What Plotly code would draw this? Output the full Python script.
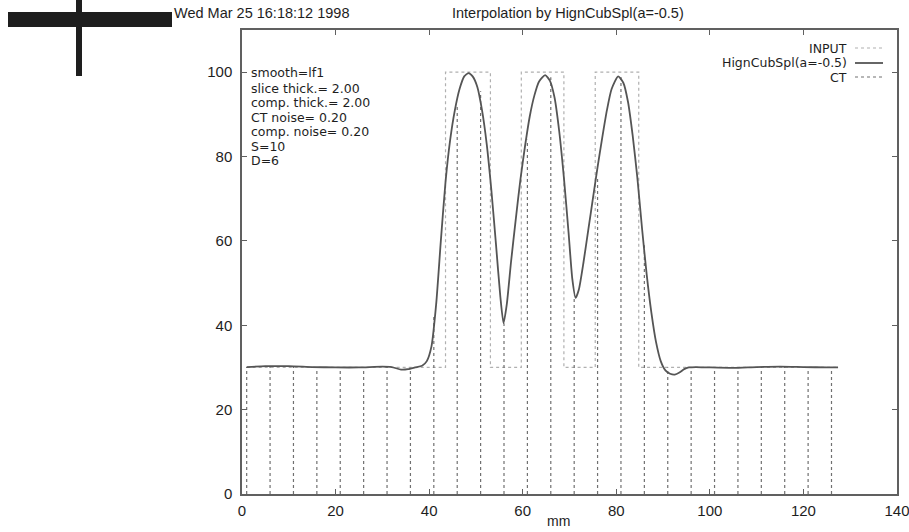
import plotly.graph_objects as go

# ---- data ----
curve_x = [1, 5, 10, 15, 20, 25, 30, 32, 34, 35.5, 37, 38.5, 39.5, 40.5, 41.5, 42.5, 43.5, 44.5,
           45.5, 46.5, 47.5, 48.4, 49.3, 50.3, 51.3, 52.3, 53.3, 54.3, 55.2, 55.9, 56.6, 57.5,
           58.5, 59.5, 60.5, 61.5, 62.5, 63.5, 64.8, 65.8, 66.8, 67.8, 68.8, 69.8, 70.6, 71.3,
           72.0, 73.0, 74.0, 75.0, 76.0, 77.0, 78.0, 79.0, 80.4, 81.5, 82.5, 83.5, 84.5, 85.5,
           86.5, 87.5, 88.5, 89.5, 90.5, 91.5, 92.5, 93.5, 94.5, 95.5, 97, 100, 105, 110, 115,
           120, 125, 127.4]
curve_y = [30.1, 30.3, 30.3, 30.1, 30.0, 30.0, 30.2, 30.1, 29.5, 29.6, 30.0, 30.4, 31.5, 35, 45,
           60, 74, 84, 91, 96, 99, 99.8, 99, 96.5, 91, 83, 72, 59, 47, 40.5, 45, 55,
           65, 74.5, 82.5, 89.5, 94.5, 97.8, 99.3, 98, 94, 86, 75, 62, 51, 46.5,
           48.5, 55, 62.5, 70, 77.5, 84.5, 91, 96, 99, 97.5, 93, 85, 75, 63,
           52, 43, 36, 31.5, 29.3, 28.5, 28.3, 28.8, 29.6, 30.0, 30.1, 30.0, 29.9, 30.1, 30.2,
           30.1, 30.0, 30.0]

input_x = [1, 43.5, 43.5, 53.1, 53.1, 59.7, 59.7, 68.8, 68.8, 75.5, 75.5, 84.8, 84.8, 127.4]
input_y = [30, 30, 100, 100, 30, 30, 100, 100, 30, 30, 100, 100, 30, 30]

ct_x = [1, 6, 11, 16, 21, 26, 31, 36, 41, 46, 51, 56, 61, 66, 71, 76, 81, 86, 91, 96,
        101, 106, 111, 116, 121, 126]
ct_y = [30.1, 30.3, 30.3, 30.1, 30.0, 30.0, 30.2, 29.7, 42, 92, 95.5, 40.5, 84, 98.8, 47,
        75, 99, 59, 30, 30.1, 30.0, 29.9, 30.1, 30.1, 30.0, 30.0]

x_ticks = [0, 20, 40, 60, 80, 100, 120, 140]
y_ticks = [0, 20, 40, 60, 80, 100]

header_text = "Wed Mar 25 16:18:12 1998"
title_text = "Interpolation by HignCubSpl(a=-0.5)"
x_label = "mm"
info_lines = ["smooth=lf1", "slice thick.= 2.00", "comp. thick.= 2.00", "CT noise= 0.20",
              "comp. noise= 0.20", "S=10", "D=6"]
legend_names = ["INPUT", "HignCubSpl(a=-0.5)", "CT"]

# ---- figure ----
W, H = 909, 532
L, R, T, B = 242, 12, 30, 38
FONT = "Liberation Sans, Arial, sans-serif"
INFO_FONT = "DejaVu Sans, Liberation Sans, sans-serif"
TXT = "#1e1e1e"

def px(xp):
    return (xp - L) / (W - L - R)

def py(yp):
    return (H - B - yp) / (H - T - B)

imp_x, imp_y = [], []
for xv, yv in zip(ct_x, ct_y):
    imp_x += [xv, xv, None]
    imp_y += [0, yv, None]

fig = go.Figure()
fig.add_trace(go.Scatter(x=input_x, y=input_y, mode="lines", name=legend_names[0],
                         line=dict(color="#b0b0b0", width=1.2, dash="dot"), showlegend=False))
fig.add_trace(go.Scatter(x=imp_x, y=imp_y, mode="lines", name=legend_names[2],
                         line=dict(color="#707070", width=1.2, dash="dot"), showlegend=False))
fig.add_trace(go.Scatter(x=curve_x, y=curve_y, mode="lines", name=legend_names[1],
                         line=dict(color="#555555", width=1.8, shape="spline", smoothing=0.6),
                         showlegend=False))

annotations = []
annotations.append(dict(x=px(172), y=py(13), xref="paper", yref="paper", text=header_text,
                        showarrow=False, xanchor="left", yanchor="middle",
                        font=dict(size=14.5, color=TXT, family=FONT)))
annotations.append(dict(x=px(568), y=py(13), xref="paper", yref="paper", text=title_text,
                        showarrow=False, xanchor="center", yanchor="middle",
                        font=dict(size=14.5, color=TXT, family=FONT)))
annotations.append(dict(x=px(558), y=py(521), xref="paper", yref="paper", text=x_label,
                        showarrow=False, xanchor="center", yanchor="middle",
                        font=dict(size=14, color=TXT, family=FONT)))
info_y = [73, 88, 102.5, 117, 131.5, 146, 160]
for t, yy in zip(info_lines, info_y):
    annotations.append(dict(x=px(249), y=py(yy), xref="paper", yref="paper", text=t,
                            showarrow=False, xanchor="left", yanchor="middle",
                            font=dict(size=12.5, color=TXT, family=INFO_FONT)))
leg_y = [48, 63, 77]
leg_styles = [dict(color="#b0b0b0", width=1.2, dash="dot"),
              dict(color="#555555", width=1.8),
              dict(color="#707070", width=1.2, dash="dot")]
shapes = []
for name, yy, st in zip(legend_names, leg_y, leg_styles):
    annotations.append(dict(x=px(849), y=py(yy), xref="paper", yref="paper", text=name,
                            showarrow=False, xanchor="right", yanchor="middle",
                            font=dict(size=12.5, color=TXT, family=INFO_FONT)))
    shapes.append(dict(type="line", xref="paper", yref="paper", x0=px(855), x1=px(883),
                       y0=py(yy), y1=py(yy), line=st))

# scanning artifact (black cross) at top-left
shapes.append(dict(type="rect", xref="paper", yref="paper", x0=px(8), x1=px(172),
                   y0=py(27), y1=py(12), fillcolor="#1e1e1e", line=dict(width=0)))
shapes.append(dict(type="rect", xref="paper", yref="paper", x0=px(76), x1=px(82),
                   y0=py(76), y1=py(0), fillcolor="#1e1e1e", line=dict(width=0)))

axis_common = dict(showgrid=False, zeroline=False, showline=True, linecolor="#606060",
                   linewidth=1.5, mirror="allticks", ticks="inside", ticklen=5,
                   tickcolor="#606060", automargin=False, ticklabeloverflow="allow",
                   tickfont=dict(size=15, color=TXT, family=FONT))

fig.update_layout(
    width=W, height=H,
    margin=dict(l=L, r=R, t=T, b=B, pad=0),
    paper_bgcolor="white", plot_bgcolor="white",
    xaxis=dict(range=[0, 140], tickvals=x_ticks, ticktext=[str(v) for v in x_ticks],
               ticklabelstandoff=2, **axis_common),
    yaxis=dict(range=[0, 110], tickvals=y_ticks, ticktext=[str(v) for v in y_ticks],
               ticklabelstandoff=5, **axis_common),
    annotations=annotations,
    shapes=shapes,
    showlegend=False,
)

fig.write_html("out.html")
